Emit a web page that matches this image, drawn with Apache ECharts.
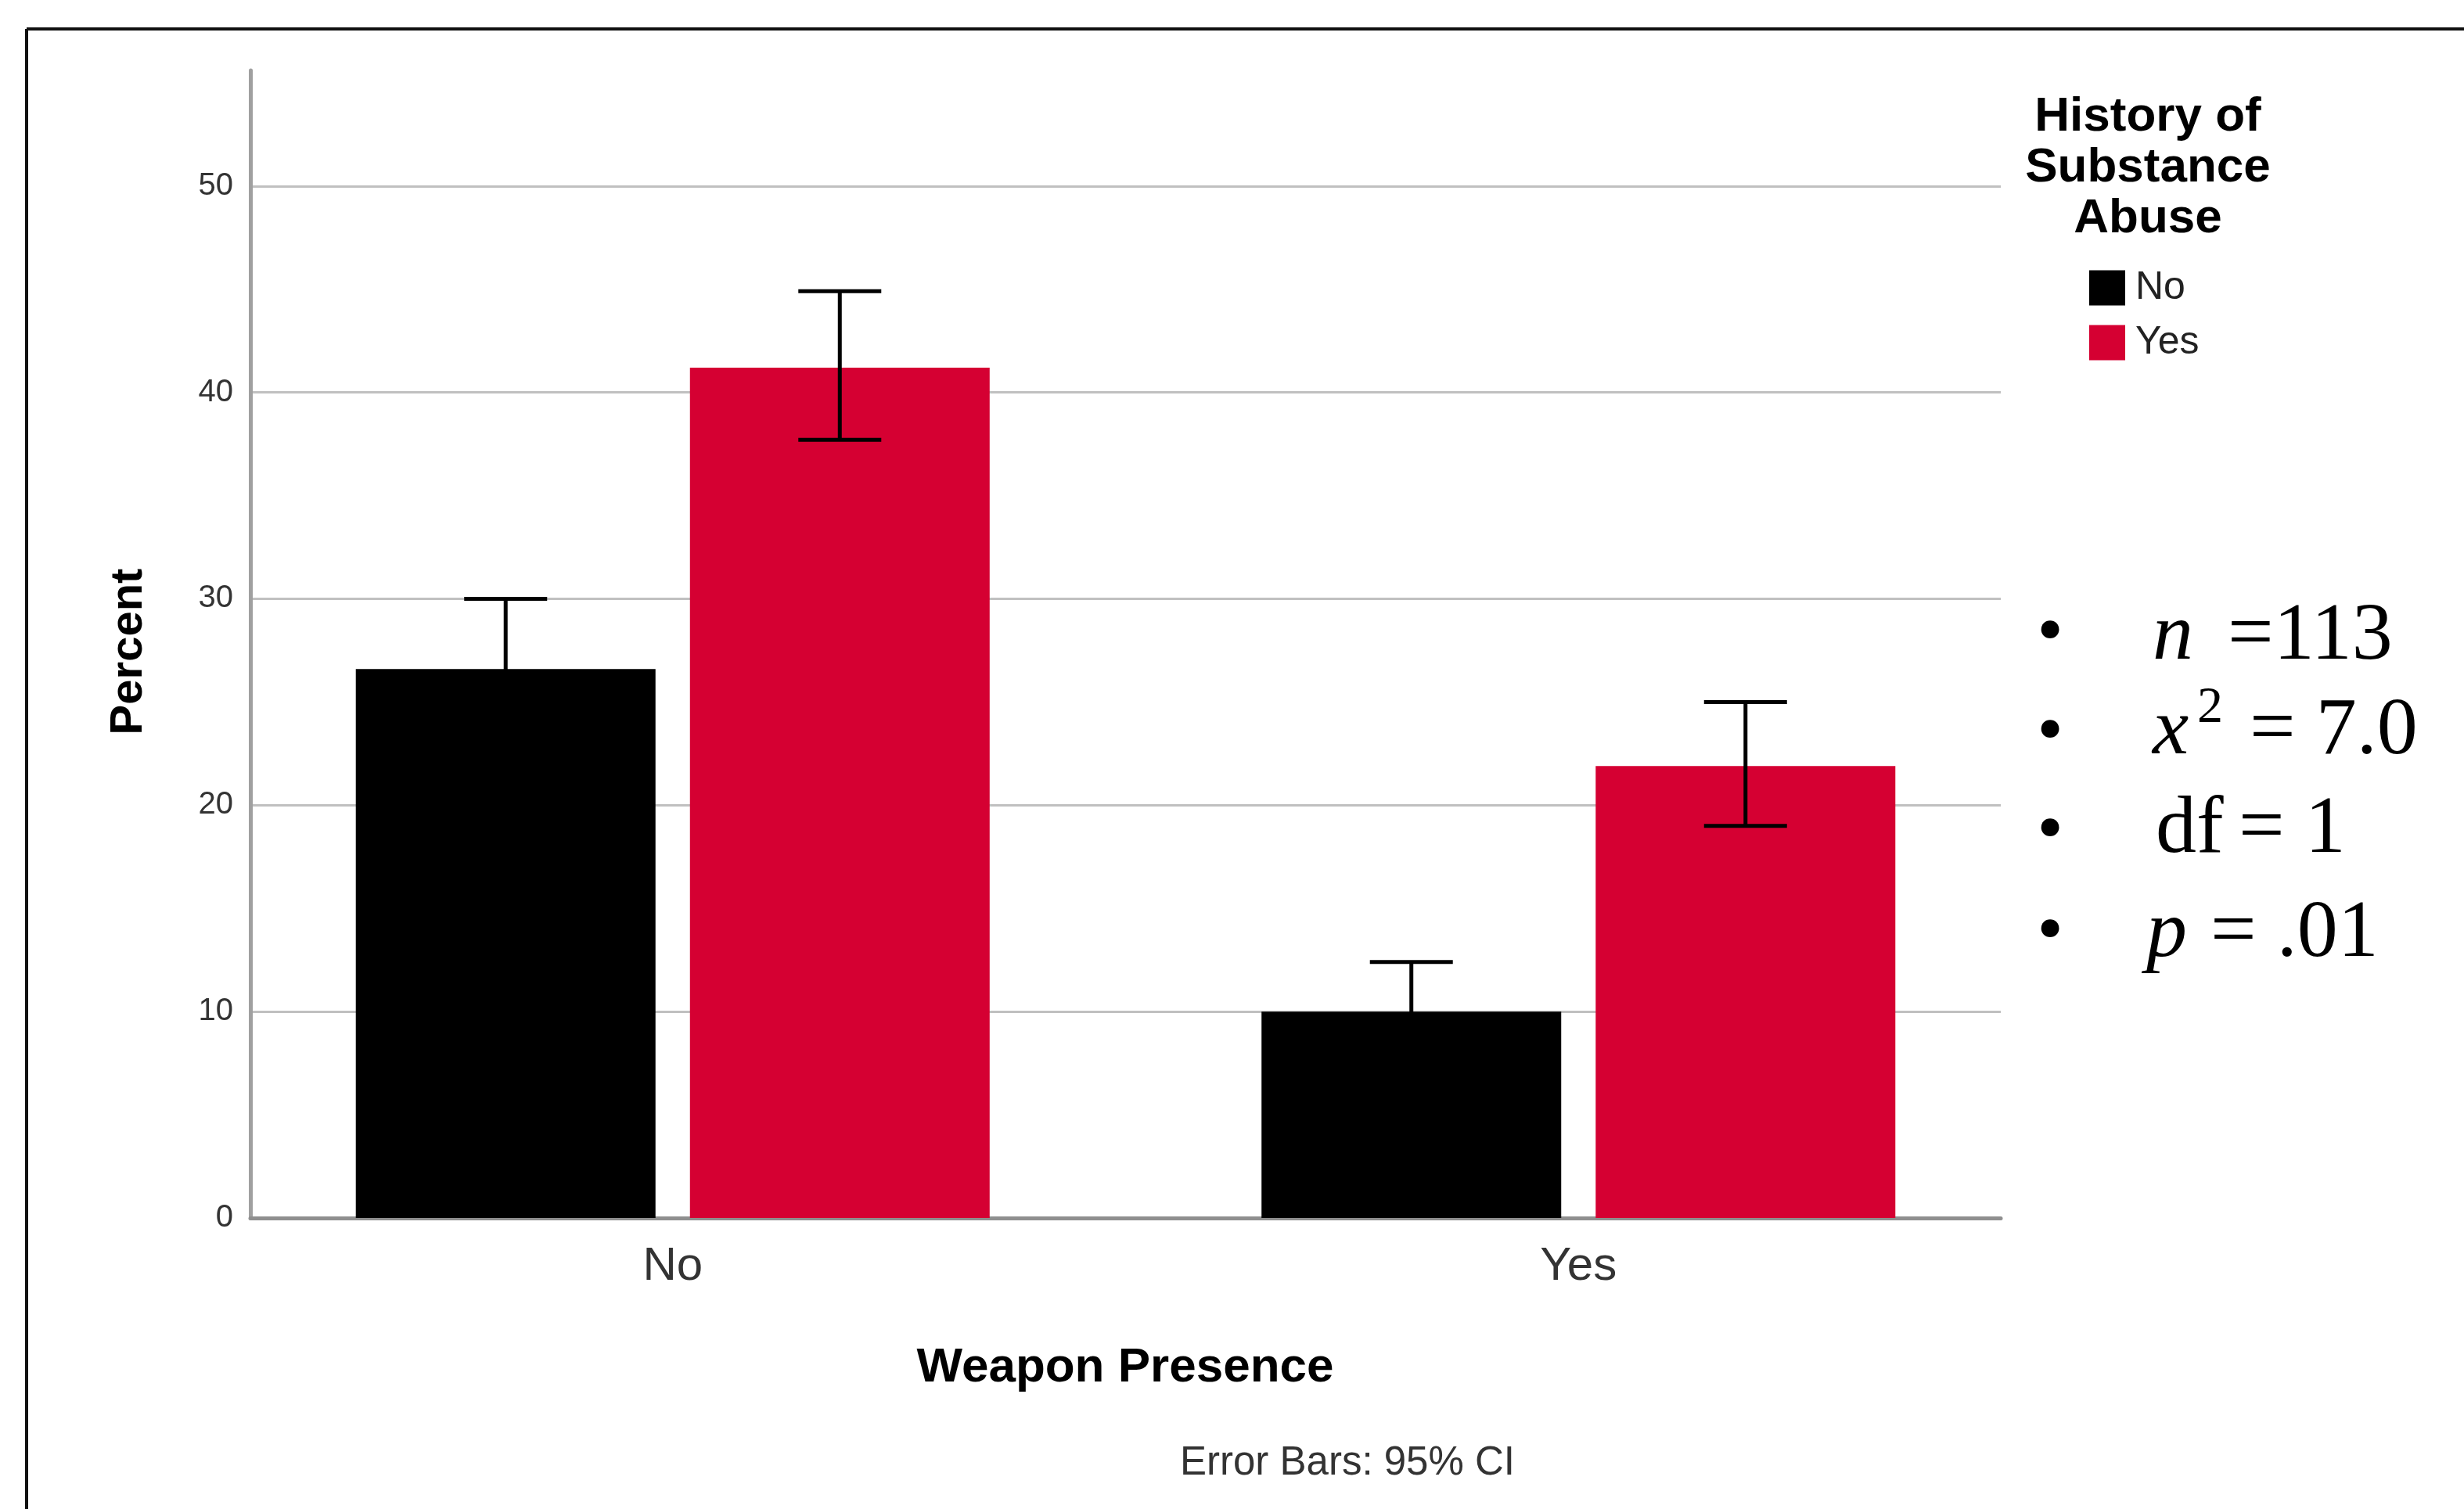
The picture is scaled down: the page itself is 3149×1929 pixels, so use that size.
<!DOCTYPE html>
<html><head><meta charset="utf-8">
<script src="https://cdn.jsdelivr.net/npm/echarts@6/dist/echarts.min.js"></script>
<style>html,body{margin:0;padding:0;background:#fff}#chart{width:3149px;height:1929px}</style>
</head><body><div id="chart"></div>
<script>
// ---- data ----
const categories = ['No', 'Yes'];            // Weapon Presence
const seriesNames = ['No', 'Yes'];           // History of Substance Abuse
const abuseNo = [26.6, 10.0];
const abuseYes = [41.2, 21.9];
const abuseNoLow = [23.2, 7.6];
const abuseNoHigh = [30.0, 12.4];
const abuseYesLow = [37.7, 19.0];
const abuseYesHigh = [44.9, 25.0];
const yMin = 0, yMax = 55.6, yStep = 10;
const legendTitle = 'History of\nSubstance\nAbuse';
const xTitle = 'Weapon Presence';
const yTitle = 'Percent';
const note = 'Error Bars: 95% CI';

// ---- styles ----
const NARROW = "'Liberation Sans Narrow', 'Arial Narrow', 'Liberation Sans', Arial, sans-serif";
const SANS = "'Liberation Sans', Arial, sans-serif";
const SERIF = "'Liberation Serif', 'Times New Roman', serif";
const BAR_W = 383, BAR_GAP = 0.115;
const colors = ['#000000', '#d50032'];

const errData = [];
[[abuseNoLow, abuseNoHigh], [abuseYesLow, abuseYesHigh]].forEach((pair, s) => {
  categories.forEach((c, i) => errData.push([i, pair[0][i], pair[1][i], s]));
});

const chart = echarts.init(document.getElementById('chart'), null, {renderer: 'canvas'});

function txt(x, y, text, size, extra) {
  return {
    type: 'text', x: x, y: y, z: 100,
    style: Object.assign({text: text, font: size + 'px ' + SERIF, fill: '#000',
      textAlign: 'left', textVerticalAlign: 'middle'}, extra || {})
  };
}
function italic(x, y, text, size) {
  return txt(x, y, text, size, {font: 'italic ' + size + 'px ' + SERIF});
}
const FS = 104;

const option = {
  animation: false,
  backgroundColor: '#fff',
  color: colors,
  grid: [
    {left: 320, top: 90, width: 2237, height: 1467},
    {left: 281, top: 90, width: 2315, height: 1467}
  ],
  xAxis: [
    {gridIndex: 0, type: 'category', data: categories,
     axisLine: {show: true, lineStyle: {color: '#8f8f8f', width: 5}},
     axisTick: {show: false}, axisLabel: {show: false}, splitLine: {show: false}},
    {gridIndex: 1, type: 'category', data: categories,
     axisLine: {show: false}, axisTick: {show: false},
     axisLabel: {show: true, margin: 32, fontFamily: NARROW, fontSize: 60, color: '#333'}}
  ],
  yAxis: [
    {gridIndex: 0, type: 'value', min: yMin, max: yMax, interval: yStep,
     axisLine: {show: true, lineStyle: {color: '#a0a0a0', width: 5}},
     axisTick: {show: false},
     axisLabel: {show: true, showMaxLabel: false, margin: 22, fontFamily: NARROW, fontSize: 40,
                 color: '#333', padding: [12, 0, 0, 0]},
     splitLine: {show: true, showMaxLine: false, showMinLine: false, lineStyle: {color: '#c0c0c0', width: 3}}},
    {gridIndex: 1, type: 'value', min: yMin, max: yMax, interval: yStep, show: false,
     splitLine: {show: false}}
  ],
  legend: {
    data: seriesNames, orient: 'vertical', left: 2670, top: 343, padding: 0,
    itemWidth: 46, itemHeight: 45, itemGap: 20, icon: 'rect', selectedMode: false,
    textStyle: {fontFamily: NARROW, fontSize: 50, color: '#222', padding: [0, 0, 0, 8]}
  },
  series: [
    {name: seriesNames[0], type: 'bar', xAxisIndex: 1, yAxisIndex: 1, data: abuseNo,
     barWidth: BAR_W, barGap: (BAR_GAP * 100) + '%', itemStyle: {color: colors[0]}},
    {name: seriesNames[1], type: 'bar', xAxisIndex: 1, yAxisIndex: 1, data: abuseYes,
     barWidth: BAR_W, barGap: (BAR_GAP * 100) + '%', itemStyle: {color: colors[1]}},
    {name: 'CI', type: 'custom', xAxisIndex: 1, yAxisIndex: 1, data: errData, z: 10,
     encode: {x: 0, y: [1, 2]},
     renderItem: function (params, api) {
       const cat = api.value(0), lo = api.value(1), hi = api.value(2), s = api.value(3);
       const pLo = api.coord([cat, lo]), pHi = api.coord([cat, hi]);
       const off = (s === 0 ? -1 : 1) * BAR_W * (1 + BAR_GAP) / 2;
       const x = pLo[0] + off, hw = 53;
       const st = {stroke: '#000000', lineWidth: 5};
       return {type: 'group', children: [
         {type: 'line', shape: {x1: x, y1: pLo[1], x2: x, y2: pHi[1]}, style: st},
         {type: 'line', shape: {x1: x - hw, y1: pHi[1], x2: x + hw, y2: pHi[1]}, style: st},
         {type: 'line', shape: {x1: x - hw, y1: pLo[1], x2: x + hw, y2: pLo[1]}, style: st}
       ]};
     }}
  ],
  graphic: [
    // frame
    {type: 'line', shape: {x1: 34, y1: 37, x2: 3149, y2: 37}, style: {stroke: '#111', lineWidth: 4}},
    {type: 'line', shape: {x1: 34, y1: 37, x2: 34, y2: 1929}, style: {stroke: '#111', lineWidth: 4}},
    // titles
    {type: 'text', x: 165, y: 833, rotation: Math.PI / 2,
     style: {text: yTitle, font: 'bold 58px ' + SANS, fill: '#000', textAlign: 'center', textVerticalAlign: 'middle'}},
    {type: 'text', x: 1438, y: 1749,
     style: {text: xTitle, font: 'bold 62px ' + SANS, fill: '#000', textAlign: 'center', textVerticalAlign: 'middle'}},
    {type: 'text', x: 1722, y: 1871,
     style: {text: note, font: '51px ' + NARROW, fill: '#333', textAlign: 'center', textVerticalAlign: 'middle'}},
    {type: 'text', x: 2745, y: 117,
     style: {text: legendTitle, font: 'bold 62px ' + SANS, lineHeight: 65, fill: '#000', textAlign: 'center', textVerticalAlign: 'top'}},
    // statistics
    txt(2620, 811, '•', 96, {textAlign: 'center'}),
    txt(2620, 938, '•', 96, {textAlign: 'center'}),
    txt(2620, 1064, '•', 96, {textAlign: 'center'}),
    txt(2620, 1193, '•', 96, {textAlign: 'center'}),
    italic(2751, 815, 'n', FS),
    txt(2847, 815, '=113', FS),
    italic(2751, 936, 'x', FS),
    txt(2808, 906, '2', 66),
    txt(2875, 936, '= 7.0', FS),
    txt(2755, 1062, 'df', FS),
    txt(2861, 1062, '= 1', FS),
    italic(2743, 1195, 'p', FS),
    txt(2825, 1195, '= .01', FS)
  ]
};
chart.setOption(option);
</script>
</body></html>
